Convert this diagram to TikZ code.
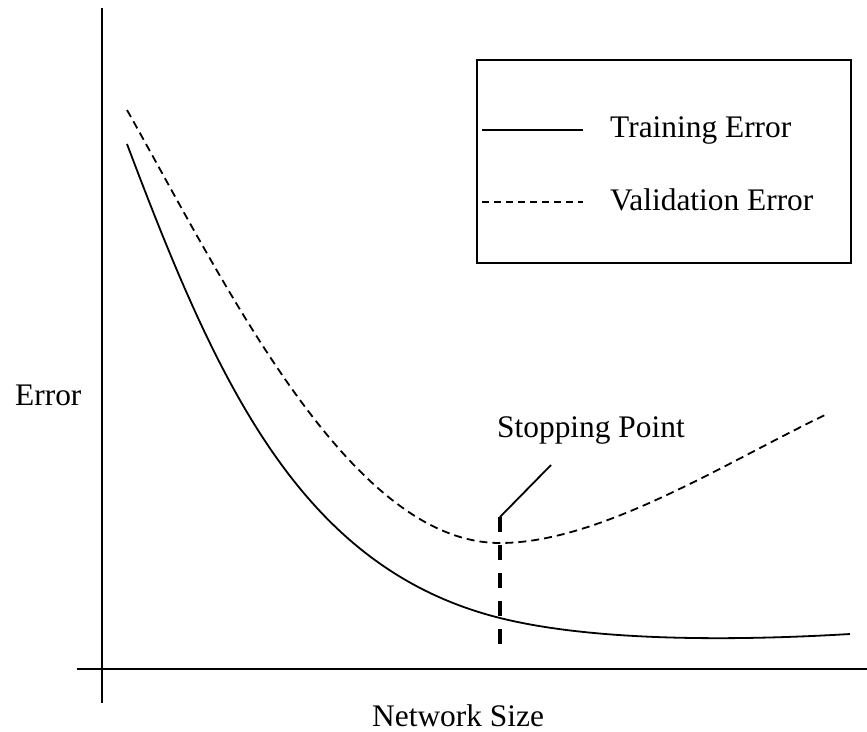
\documentclass[tikz,border=0pt]{standalone}
\usepackage{fontspec}
\setmainfont{LiberationSerif}[Extension=.ttf,UprightFont=*-Regular,BoldFont=*-Bold,ItalicFont=*-Italic,BoldItalicFont=*-BoldItalic]
\begin{document}
\begin{tikzpicture}[x=1pt,y=-1pt,
  lbl/.style={inner sep=0pt,font=\rmfamily\fontsize{31.4}{36}\selectfont},
  axis/.style={line width=2.6pt},
  curve/.style={line width=1.8pt},
  valcurve/.style={line width=1.8pt,dash pattern=on 8pt off 5pt},
  stopline/.style={line width=4.5pt,dash pattern=on 15pt off 13pt}]
\useasboundingbox (0,0) rectangle (867,731);
% axes
\coordinate (ytop) at (102,8);
\coordinate (ybot) at (102,703);
\coordinate (xl) at (77,669);
\coordinate (xr) at (867,669);
\draw[axis] (ytop) -- (ybot);
\draw[axis] (xl) -- (xr);
% training curve
\coordinate (t0) at (127,144);
\coordinate (t1) at (500,618);
\coordinate (t2) at (850,634);
\draw[curve] (t0) .. controls (217,382.5) and (300,568) .. (t1)
  .. controls (600,643) and (750,640) .. (t2);
% validation curve
\coordinate (v0) at (127,110);
\coordinate (v1) at (500,543);
\coordinate (v2) at (825,415);
\draw[valcurve] (v0) .. controls (227,287) and (350,543) .. (v1)
  .. controls (600,543) and (725,463) .. (v2);
% stopping point
\coordinate (s1) at (500,517);
\coordinate (s2) at (500,644);
\coordinate (s3) at (551,465);
\draw[stopline] (s1) -- (s2);
\draw[line width=1.8pt] (s1) -- (s3);
\node[lbl,anchor=base west] (stop) at (497,437) {Stopping Point};
% legend
\node[draw,line width=1.8pt,minimum width=374pt,minimum height=203pt,inner sep=0pt,anchor=north west] (leg) at (476,59) {};
\coordinate (l1a) at (482,130);
\coordinate (l1b) at (583,130);
\coordinate (l2a) at (482,202);
\coordinate (l2b) at (583,202);
\draw[curve] (l1a) -- (l1b);
\draw[line width=1.5pt,dash pattern=on 7pt off 5pt] (l2a) -- (l2b);
\node[lbl,anchor=base west] (tr) at (610,137) {Training Error};
\node[lbl,anchor=base west] (va) at (610,210) {Validation Error};
% axis labels
\node[lbl,anchor=base west] (ey) at (15,405) {Error};
\node[lbl,anchor=base west] (nx) at (372,726) {Network Size};
\end{tikzpicture}
\end{document}
